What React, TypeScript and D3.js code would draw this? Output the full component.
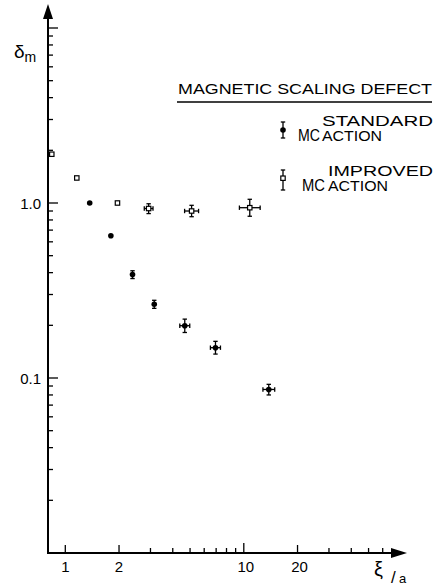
import React, { useEffect, useRef } from 'react';
import * as d3 from 'd3';

// xi/a values and delta_m for the two MC runs
const standardXi = [1.37, 1.8, 2.38, 3.15, 4.67, 6.94, 13.8];
const standardDelta = [1.0, 0.65, 0.39, 0.264, 0.199, 0.149, 0.086];
const standardDeltaLo = [null, null, 0.37, 0.25, 0.182, 0.137, 0.08];
const standardDeltaHi = [null, null, 0.41, 0.278, 0.217, 0.162, 0.092];
const standardXiLo = [null, null, null, null, 4.38, 6.5, 12.8];
const standardXiHi = [null, null, null, null, 4.98, 7.4, 14.9];

const improvedXi = [0.84, 1.16, 1.96, 2.93, 5.1, 10.8];
const improvedDelta = [1.9, 1.39, 1.0, 0.93, 0.9, 0.94];
const improvedDeltaLo = [null, null, null, 0.87, 0.835, 0.84];
const improvedDeltaHi = [null, null, null, 0.99, 0.97, 1.05];
const improvedXiLo = [null, null, null, 2.77, 4.66, 9.45];
const improvedXiHi = [null, null, null, 3.1, 5.58, 12.35];

const xTickLabels = ['1', '2', '10', '20'];
const yTickLabels = ['1.0', '0.1'];

const FONT = '"Liberation Sans", Arial, sans-serif';

type Pt = { x: number; y: number; ylo: number | null; yhi: number | null; xlo: number | null; xhi: number | null };

const build = (xs: number[], ys: number[], ylo: (number | null)[], yhi: (number | null)[], xlo: (number | null)[], xhi: (number | null)[]): Pt[] =>
    xs.map((x, i) => ({ x, y: ys[i], ylo: ylo[i], yhi: yhi[i], xlo: xlo[i], xhi: xhi[i] }));

const App = () => {
    const ref = useRef<SVGSVGElement>(null);

    useEffect(() => {
        const svg = d3.select(ref.current);
        svg.selectAll('*').remove();

        const x0 = 48;   // y axis position
        const y0 = 553;  // x axis position

        const x = d3.scaleLog().domain([0.8, 80]).range([x0, 405]);
        const y = d3.scaleLog().domain([0.01, 10]).range([y0, 28]);

        const ax = svg.append('g').attr('stroke', '#000').attr('fill', 'none');

        // axes lines
        ax.append('line').attr('x1', x0).attr('x2', x0).attr('y1', y0 + 1).attr('y2', 14).attr('stroke-width', 2);
        ax.append('line').attr('x1', x0 - 1).attr('x2', 396).attr('y1', y0).attr('y2', y0).attr('stroke-width', 2);
        svg.append('path').attr('d', `M${x0},4 L${x0 - 5},19 L${x0 + 5},19 Z`).attr('fill', '#000');
        svg.append('path').attr('d', `M407,${y0} L391,${y0 - 5} L391,${y0 + 5} Z`).attr('fill', '#000');

        // y ticks (inside)
        const yTicks: number[] = [];
        [0.01, 0.1, 1].forEach(d => d3.range(2, 10).forEach(k => yTicks.push(+(k * d).toFixed(3))));
        yTicks.push(0.1, 1, 10);
        ax.selectAll('line.yt').data(yTicks).join('line')
            .attr('class', 'yt')
            .attr('x1', x0).attr('x2', d => x0 + ([0.1, 1, 10].includes(d) ? 10 : 5))
            .attr('y1', d => y(d)).attr('y2', d => y(d))
            .attr('stroke-width', 1.3);

        // x ticks (inside)
        const xTicks: number[] = [];
        [1, 10].forEach(d => d3.range(1, 10).forEach(k => xTicks.push(k * d)));
        xTicks.push(20, 30, 40, 50, 60);
        const xTicksUniq = Array.from(new Set(xTicks)).filter(d => d <= 60);
        ax.selectAll('line.xt').data(xTicksUniq).join('line')
            .attr('class', 'xt')
            .attr('x1', d => x(d)).attr('x2', d => x(d))
            .attr('y1', y0)
            .attr('y2', d => y0 - (d === 10 ? 10 : [1, 2, 20].includes(d) ? 8 : 5))
            .attr('stroke-width', 1.3);

        // tick labels
        svg.selectAll('text.xl').data(xTickLabels).join('text')
            .attr('class', 'xl')
            .attr('x', d => x(+d) + (+d >= 10 ? 2 : 0))
            .attr('y', y0 + 19)
            .attr('text-anchor', 'middle')
            .attr('font-family', FONT).attr('font-size', 15)
            .text(d => d);

        svg.selectAll('text.yl').data(yTickLabels).join('text')
            .attr('class', 'yl')
            .attr('x', 41)
            .attr('y', d => y(+d) + 6)
            .attr('text-anchor', 'end')
            .attr('font-family', FONT).attr('font-size', 15)
            .text(d => d);

        // axis titles
        const yt = svg.append('text').attr('font-family', FONT).attr('x', 14).attr('y', 58);
        yt.append('tspan').attr('font-size', 19).text('δ');
        yt.append('tspan').attr('font-size', 14).attr('dy', 4).text('m');

        svg.append('text').attr('font-family', FONT).attr('font-size', 20).attr('x', 374).attr('y', 576).text('ξ');
        svg.append('text').attr('font-family', FONT).attr('font-size', 17).attr('x', 391).attr('y', 583).text('/');
        svg.append('text').attr('font-family', FONT).attr('font-size', 13).attr('x', 399).attr('y', 583).text('a');

        // error bars
        const drawErr = (g: d3.Selection<SVGGElement, unknown, null, undefined>, pts: Pt[]) => {
            const cap = 2.2;
            pts.forEach(p => {
                if (p.ylo !== null && p.yhi !== null) {
                    g.append('line').attr('x1', x(p.x)).attr('x2', x(p.x)).attr('y1', y(p.ylo)).attr('y2', y(p.yhi));
                    g.append('line').attr('x1', x(p.x) - cap).attr('x2', x(p.x) + cap).attr('y1', y(p.ylo)).attr('y2', y(p.ylo));
                    g.append('line').attr('x1', x(p.x) - cap).attr('x2', x(p.x) + cap).attr('y1', y(p.yhi)).attr('y2', y(p.yhi));
                }
                if (p.xlo !== null && p.xhi !== null) {
                    g.append('line').attr('x1', x(p.xlo)).attr('x2', x(p.xhi)).attr('y1', y(p.y)).attr('y2', y(p.y));
                    g.append('line').attr('x1', x(p.xlo)).attr('x2', x(p.xlo)).attr('y1', y(p.y) - cap).attr('y2', y(p.y) + cap);
                    g.append('line').attr('x1', x(p.xhi)).attr('x2', x(p.xhi)).attr('y1', y(p.y) - cap).attr('y2', y(p.y) + cap);
                }
            });
        };

        const standard = build(standardXi, standardDelta, standardDeltaLo, standardDeltaHi, standardXiLo, standardXiHi);
        const improved = build(improvedXi, improvedDelta, improvedDeltaLo, improvedDeltaHi, improvedXiLo, improvedXiHi);

        const eg = svg.append('g').attr('stroke', '#000').attr('stroke-width', 1.3);
        drawErr(eg, standard);
        drawErr(eg, improved);

        svg.append('g').selectAll('circle').data(standard).join('circle')
            .attr('cx', d => x(d.x)).attr('cy', d => y(d.y)).attr('r', 2.8)
            .attr('fill', '#000');

        svg.append('g').selectAll('rect').data(improved).join('rect')
            .attr('x', d => x(d.x) - 2.2).attr('y', d => y(d.y) - 2.2)
            .attr('width', 4.4).attr('height', 4.4)
            .attr('fill', '#fff').attr('stroke', '#000').attr('stroke-width', 1.2);

        // legend
        const lg = svg.append('g').attr('font-family', FONT);
        const label = (tx: number, ty: number, size: number, len: number, s: string) =>
            lg.append('text').attr('x', tx).attr('y', ty).attr('font-size', size)
                .attr('textLength', len).attr('lengthAdjust', 'spacingAndGlyphs')
                .text(s);

        label(178, 94, 15, 254, 'MAGNETIC SCALING DEFECT');
        lg.append('line').attr('x1', 177).attr('x2', 432).attr('y1', 102).attr('y2', 102)
            .attr('stroke', '#000').attr('stroke-width', 1.3);

        const lgErr = lg.append('g').attr('stroke', '#000').attr('stroke-width', 1.3);
        [[283, 122, 138], [283, 170, 190]].forEach(([cx, a, b]) => {
            lgErr.append('line').attr('x1', cx).attr('x2', cx).attr('y1', a).attr('y2', b);
            lgErr.append('line').attr('x1', cx - 2.2).attr('x2', cx + 2.2).attr('y1', a).attr('y2', a);
            lgErr.append('line').attr('x1', cx - 2.2).attr('x2', cx + 2.2).attr('y1', b).attr('y2', b);
        });
        lg.append('circle').attr('cx', 283).attr('cy', 130).attr('r', 2.8).attr('fill', '#000');
        lg.append('rect').attr('x', 280.8).attr('y', 176).attr('width', 4.4).attr('height', 4.4)
            .attr('fill', '#fff').attr('stroke', '#000').attr('stroke-width', 1.2);

        label(298, 141, 16, 22, 'MC');
        label(322, 126, 14, 111, 'STANDARD');
        label(322, 141, 14, 60, 'ACTION');

        label(302, 191, 16, 23, 'MC');
        label(328, 176, 14, 105, 'IMPROVED');
        label(328, 191, 14, 60, 'ACTION');
    }, []);

    return (
        <svg ref={ref} width={446} height={587}
            style={{ position: 'absolute', left: 0, top: 0, background: '#fff' }} />
    );
};

export default App;
